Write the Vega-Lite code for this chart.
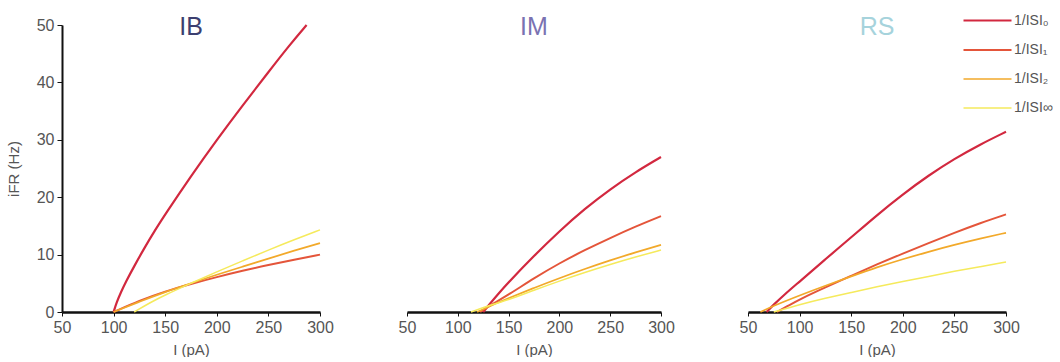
{
  "$schema": "https://vega.github.io/schema/vega-lite/v6.json",
  "padding": {"left": 6, "top": 4, "right": 0, "bottom": 0},
  "background": "white",
  "spacing": 64,
  "config": {
    "view": {"stroke": null},
    "font": "Liberation Sans",
    "axis": {
      "labelFont": "Liberation Sans", "labelFontSize": 16, "labelColor": "#555555", "labelFlush": false, "labelOverlap": false,
      "titleFont": "Liberation Sans", "titleFontSize": 15, "titleColor": "#555555", "titleFontWeight": "normal",
      "domainColor": "#111111", "tickColor": "#111111", "grid": false
    },
    "legend": {"labelFont": "Liberation Sans"}
  },
  "datasets": {
    "d": [
      {"p":"IB","s":"1/ISI₀","I":100,"f":0},{"p":"IB","s":"1/ISI₀","I":103,"f":1.7},{"p":"IB","s":"1/ISI₀","I":107,"f":3.4},{"p":"IB","s":"1/ISI₀","I":112,"f":5.3},{"p":"IB","s":"1/ISI₀","I":120,"f":8},{"p":"IB","s":"1/ISI₀","I":130,"f":11.2},{"p":"IB","s":"1/ISI₀","I":140,"f":14.2},{"p":"IB","s":"1/ISI₀","I":150,"f":17},{"p":"IB","s":"1/ISI₀","I":175,"f":23.7},{"p":"IB","s":"1/ISI₀","I":200,"f":30},{"p":"IB","s":"1/ISI₀","I":225,"f":36},{"p":"IB","s":"1/ISI₀","I":250,"f":41.8},{"p":"IB","s":"1/ISI₀","I":270,"f":46.4},{"p":"IB","s":"1/ISI₀","I":287,"f":50},
      {"p":"IB","s":"1/ISI₁","I":100,"f":0},{"p":"IB","s":"1/ISI₁","I":125,"f":2},{"p":"IB","s":"1/ISI₁","I":150,"f":3.6},{"p":"IB","s":"1/ISI₁","I":175,"f":4.9},{"p":"IB","s":"1/ISI₁","I":200,"f":6.1},{"p":"IB","s":"1/ISI₁","I":225,"f":7.2},{"p":"IB","s":"1/ISI₁","I":250,"f":8.2},{"p":"IB","s":"1/ISI₁","I":275,"f":9.1},{"p":"IB","s":"1/ISI₁","I":300,"f":10},
      {"p":"IB","s":"1/ISI₂","I":100,"f":0},{"p":"IB","s":"1/ISI₂","I":125,"f":1.8},{"p":"IB","s":"1/ISI₂","I":150,"f":3.5},{"p":"IB","s":"1/ISI₂","I":175,"f":5},{"p":"IB","s":"1/ISI₂","I":200,"f":6.5},{"p":"IB","s":"1/ISI₂","I":225,"f":7.9},{"p":"IB","s":"1/ISI₂","I":250,"f":9.3},{"p":"IB","s":"1/ISI₂","I":275,"f":10.7},{"p":"IB","s":"1/ISI₂","I":300,"f":12},
      {"p":"IB","s":"1/ISI∞","I":120,"f":0},{"p":"IB","s":"1/ISI∞","I":135,"f":1.6},{"p":"IB","s":"1/ISI∞","I":150,"f":3},{"p":"IB","s":"1/ISI∞","I":175,"f":5},{"p":"IB","s":"1/ISI∞","I":200,"f":7},{"p":"IB","s":"1/ISI∞","I":225,"f":8.9},{"p":"IB","s":"1/ISI∞","I":250,"f":10.8},{"p":"IB","s":"1/ISI∞","I":275,"f":12.6},{"p":"IB","s":"1/ISI∞","I":300,"f":14.3},
      {"p":"IM","s":"1/ISI₀","I":125,"f":0},{"p":"IM","s":"1/ISI₀","I":130,"f":1.1},{"p":"IM","s":"1/ISI₀","I":140,"f":3.2},{"p":"IM","s":"1/ISI₀","I":150,"f":5.2},{"p":"IM","s":"1/ISI₀","I":175,"f":9.8},{"p":"IM","s":"1/ISI₀","I":200,"f":14.1},{"p":"IM","s":"1/ISI₀","I":225,"f":18},{"p":"IM","s":"1/ISI₀","I":250,"f":21.4},{"p":"IM","s":"1/ISI₀","I":275,"f":24.4},{"p":"IM","s":"1/ISI₀","I":300,"f":27},
      {"p":"IM","s":"1/ISI₁","I":122,"f":0},{"p":"IM","s":"1/ISI₁","I":135,"f":1.5},{"p":"IM","s":"1/ISI₁","I":150,"f":3},{"p":"IM","s":"1/ISI₁","I":175,"f":5.9},{"p":"IM","s":"1/ISI₁","I":200,"f":8.5},{"p":"IM","s":"1/ISI₁","I":225,"f":10.8},{"p":"IM","s":"1/ISI₁","I":250,"f":12.9},{"p":"IM","s":"1/ISI₁","I":275,"f":14.9},{"p":"IM","s":"1/ISI₁","I":300,"f":16.7},
      {"p":"IM","s":"1/ISI₂","I":119,"f":0},{"p":"IM","s":"1/ISI₂","I":135,"f":1.3},{"p":"IM","s":"1/ISI₂","I":150,"f":2.4},{"p":"IM","s":"1/ISI₂","I":175,"f":4.2},{"p":"IM","s":"1/ISI₂","I":200,"f":5.9},{"p":"IM","s":"1/ISI₂","I":225,"f":7.5},{"p":"IM","s":"1/ISI₂","I":250,"f":9},{"p":"IM","s":"1/ISI₂","I":275,"f":10.4},{"p":"IM","s":"1/ISI₂","I":300,"f":11.7},
      {"p":"IM","s":"1/ISI∞","I":113,"f":0},{"p":"IM","s":"1/ISI∞","I":130,"f":1.1},{"p":"IM","s":"1/ISI∞","I":150,"f":2.1},{"p":"IM","s":"1/ISI∞","I":175,"f":3.8},{"p":"IM","s":"1/ISI∞","I":200,"f":5.4},{"p":"IM","s":"1/ISI∞","I":225,"f":6.9},{"p":"IM","s":"1/ISI∞","I":250,"f":8.3},{"p":"IM","s":"1/ISI∞","I":275,"f":9.6},{"p":"IM","s":"1/ISI∞","I":300,"f":10.8},
      {"p":"RS","s":"1/ISI₀","I":68,"f":0},{"p":"RS","s":"1/ISI₀","I":75,"f":1.3},{"p":"RS","s":"1/ISI₀","I":85,"f":3},{"p":"RS","s":"1/ISI₀","I":100,"f":5.3},{"p":"RS","s":"1/ISI₀","I":125,"f":9.2},{"p":"RS","s":"1/ISI₀","I":150,"f":13},{"p":"RS","s":"1/ISI₀","I":175,"f":16.9},{"p":"RS","s":"1/ISI₀","I":200,"f":20.5},{"p":"RS","s":"1/ISI₀","I":225,"f":23.8},{"p":"RS","s":"1/ISI₀","I":250,"f":26.7},{"p":"RS","s":"1/ISI₀","I":275,"f":29.2},{"p":"RS","s":"1/ISI₀","I":300,"f":31.4},
      {"p":"RS","s":"1/ISI₁","I":78,"f":0},{"p":"RS","s":"1/ISI₁","I":90,"f":1.2},{"p":"RS","s":"1/ISI₁","I":100,"f":2.2},{"p":"RS","s":"1/ISI₁","I":125,"f":4.3},{"p":"RS","s":"1/ISI₁","I":150,"f":6.3},{"p":"RS","s":"1/ISI₁","I":175,"f":8.3},{"p":"RS","s":"1/ISI₁","I":200,"f":10.2},{"p":"RS","s":"1/ISI₁","I":225,"f":12},{"p":"RS","s":"1/ISI₁","I":250,"f":13.8},{"p":"RS","s":"1/ISI₁","I":275,"f":15.5},{"p":"RS","s":"1/ISI₁","I":300,"f":17},
      {"p":"RS","s":"1/ISI₂","I":62,"f":0},{"p":"RS","s":"1/ISI₂","I":75,"f":1.1},{"p":"RS","s":"1/ISI₂","I":100,"f":2.9},{"p":"RS","s":"1/ISI₂","I":125,"f":4.6},{"p":"RS","s":"1/ISI₂","I":150,"f":6.2},{"p":"RS","s":"1/ISI₂","I":175,"f":7.8},{"p":"RS","s":"1/ISI₂","I":200,"f":9.2},{"p":"RS","s":"1/ISI₂","I":225,"f":10.5},{"p":"RS","s":"1/ISI₂","I":250,"f":11.7},{"p":"RS","s":"1/ISI₂","I":275,"f":12.8},{"p":"RS","s":"1/ISI₂","I":300,"f":13.8},
      {"p":"RS","s":"1/ISI∞","I":75,"f":0},{"p":"RS","s":"1/ISI∞","I":100,"f":1.3},{"p":"RS","s":"1/ISI∞","I":125,"f":2.4},{"p":"RS","s":"1/ISI∞","I":150,"f":3.4},{"p":"RS","s":"1/ISI∞","I":175,"f":4.4},{"p":"RS","s":"1/ISI∞","I":200,"f":5.3},{"p":"RS","s":"1/ISI∞","I":225,"f":6.2},{"p":"RS","s":"1/ISI∞","I":250,"f":7.1},{"p":"RS","s":"1/ISI∞","I":275,"f":7.9},{"p":"RS","s":"1/ISI∞","I":300,"f":8.7}
    ]
  },
  "data": {"name": "d"},
  "hconcat": [
    {
      "width": 258, "height": 287,
      "title": {"text": "IB", "color": "#3c3f70", "fontSize": 25, "font": "Liberation Sans", "fontWeight": "normal", "baseline": "alphabetic", "frame": "group", "offset": 0, "dy": 43},
      "transform": [{"filter": "datum.p === 'IB'"}],
      "mark": {"type": "line", "interpolate": "basis"},
      "encoding": {
        "x": {"field": "I", "type": "quantitative", "scale": {"domain": [50, 300], "nice": false},
              "axis": {"values": [50,100,150,200,250,300], "title": "I (pA)", "domainWidth": 2.5, "tickSize": 4, "labelPadding": 3, "titlePadding": 7}},
        "y": {"field": "f", "type": "quantitative", "scale": {"domain": [0, 50], "nice": false},
              "axis": {"values": [0,10,20,30,40,50], "title": "iFR (Hz)", "domainWidth": 2, "tickSize": 5, "labelPadding": 3, "titlePadding": 15}},
        "color": {"field": "s", "type": "ordinal", "sort": ["1/ISI₀","1/ISI₁","1/ISI₂","1/ISI∞"],
                  "scale": {"domain": ["1/ISI₀","1/ISI₁","1/ISI₂","1/ISI∞"], "range": ["#d2283f","#e4553a","#f2a92a","#f5ea5c"]},
                  "legend": {"orient": "none", "legendX": 909, "legendY": -21, "title": null, "symbolType": "M-1.6,0H1.6", "symbolSize": 900, "labelFontSize": 14, "labelColor": "#555555", "labelOffset": 10, "rowPadding": 6}},
        "strokeWidth": {"field": "s", "type": "ordinal", "sort": ["1/ISI₀","1/ISI₁","1/ISI₂","1/ISI∞"],
                  "scale": {"domain": ["1/ISI₀","1/ISI₁","1/ISI₂","1/ISI∞"], "range": [2.2, 1.5, 1.6, 3.8]},
                  "legend": {"orient": "none", "legendX": 909, "legendY": -21, "title": null, "symbolType": "M-1.6,0H1.6", "symbolSize": 900, "labelFontSize": 14, "labelColor": "#555555", "labelOffset": 10, "rowPadding": 6}}
      }
    },
    {
      "width": 254, "height": 287,
      "title": {"text": "IM", "color": "#7a72b2", "fontSize": 25, "font": "Liberation Sans", "fontWeight": "normal", "baseline": "alphabetic", "frame": "group", "offset": 0, "dy": 35},
      "transform": [{"filter": "datum.p === 'IM'"}],
      "mark": {"type": "line", "interpolate": "basis"},
      "encoding": {
        "x": {"field": "I", "type": "quantitative", "scale": {"domain": [50, 300], "nice": false},
              "axis": {"values": [50,100,150,200,250,300], "title": "I (pA)", "domainWidth": 2.5, "tickSize": 4, "labelPadding": 3, "titlePadding": 7}},
        "y": {"field": "f", "type": "quantitative", "scale": {"domain": [0, 50], "nice": false}, "axis": null},
        "color": {"field": "s", "type": "ordinal", "sort": ["1/ISI₀","1/ISI₁","1/ISI₂","1/ISI∞"]},
        "strokeWidth": {"field": "s", "type": "ordinal", "sort": ["1/ISI₀","1/ISI₁","1/ISI₂","1/ISI∞"]}
      }
    },
    {
      "width": 258, "height": 287,
      "title": {"text": "RS", "color": "#a6d3dc", "fontSize": 25, "font": "Liberation Sans", "fontWeight": "normal", "baseline": "alphabetic", "frame": "group", "offset": 0, "dy": 35},
      "transform": [{"filter": "datum.p === 'RS'"}],
      "mark": {"type": "line", "interpolate": "basis"},
      "encoding": {
        "x": {"field": "I", "type": "quantitative", "scale": {"domain": [50, 300], "nice": false},
              "axis": {"values": [50,100,150,200,250,300], "title": "I (pA)", "domainWidth": 2.5, "tickSize": 4, "labelPadding": 3, "titlePadding": 7}},
        "y": {"field": "f", "type": "quantitative", "scale": {"domain": [0, 50], "nice": false}, "axis": null},
        "color": {"field": "s", "type": "ordinal", "sort": ["1/ISI₀","1/ISI₁","1/ISI₂","1/ISI∞"]},
        "strokeWidth": {"field": "s", "type": "ordinal", "sort": ["1/ISI₀","1/ISI₁","1/ISI₂","1/ISI∞"]}
      }
    }
  ]
}
